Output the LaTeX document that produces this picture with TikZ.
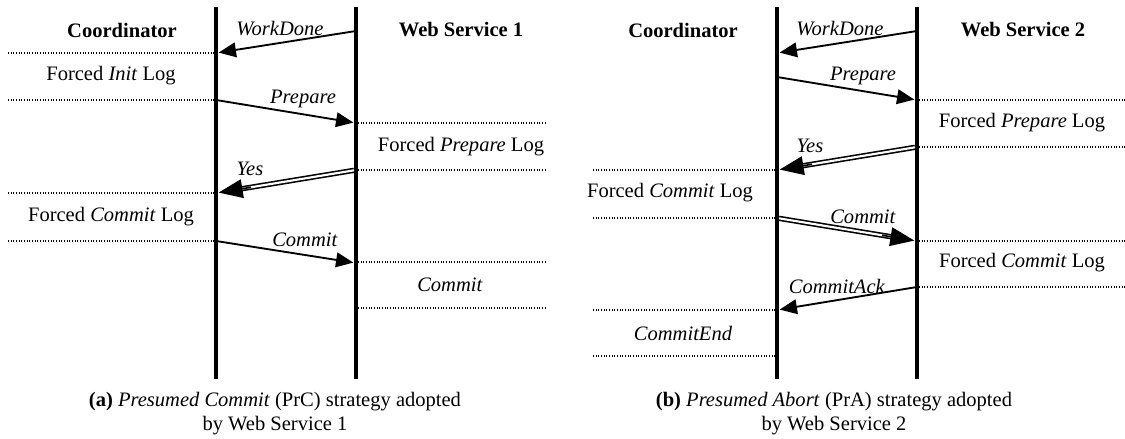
\documentclass[tikz,border=0pt]{standalone}
\usepackage{fontspec}
\setmainfont{Liberation Serif}
\usetikzlibrary{arrows.meta,calc}

\tikzset{
  lifeline/.style={line width=3.2pt},
  msg/.style={line width=1.4pt, shorten >=2pt, shorten <=1.5pt, -{Triangle[length=13pt,width=11pt]}},
  forcedmsg/.style={double, line width=1.2pt, double distance=1.6pt, shorten >=15pt, shorten <=1.5pt},
  forcedtip/.style={line width=1.2pt, shorten >=2pt, -{Triangle[length=18pt,width=14pt]}},
  logline/.style={line width=0.8pt, dash pattern=on 0.7pt off 1.3pt},
  lbl/.style={inner sep=0.75pt, font=\fontsize{15.4}{18}\selectfont},
  actor/.style={inner sep=0.75pt, font=\fontsize{15.4}{18}\selectfont\bfseries},
}

\begin{document}
\begin{tikzpicture}[x=0.75pt,y=0.75pt,yscale=-1,xscale=1]
\useasboundingbox (0,0) rectangle (1125,439);

%% (a) Presumed Commit

% Lifelines
\coordinate (coA) at (216,7);
\coordinate (coAend) at (216,379);
\coordinate (wsA) at (356,7);
\coordinate (wsAend) at (356,379);
\draw[lifeline] (coA) -- (coAend);
\draw[lifeline] (wsA) -- (wsAend);

% Text Node
\node[actor] (coAname) at (122,30) {Coordinator};
% Text Node
\node[actor] (wsAname) at (461,30) {Web Service 1};

% Messages
\coordinate (aWd1) at (356,31);
\coordinate (aWd2) at (216,53);
\draw[msg] (aWd1) -- (aWd2);
\node[lbl] (aWdTxt) at (280,29) {\textit{WorkDone}};

\coordinate (aPr1) at (216,100);
\coordinate (aPr2) at (356,123);
\draw[msg] (aPr1) -- (aPr2);
\node[lbl] (aPrTxt) at (303,99) {\textit{Prepare}};

\coordinate (aYs1) at (356,170);
\coordinate (aYs2) at (216,193);
\draw[forcedmsg] (aYs1) -- (aYs2);
\draw[forcedtip] ($(aYs1)!0.75!(aYs2)$) -- (aYs2);
\node[lbl] (aYsTxt) at (250,169) {\textit{Yes}};

\coordinate (aCm1) at (216,241);
\coordinate (aCm2) at (356,263);
\draw[msg] (aCm1) -- (aCm2);
\node[lbl] (aCmTxt) at (305,240) {\textit{Commit}};

% Log records
\draw[logline] (8,53) -- (214,53);
\node[lbl] (aInit) at (111,76) {Forced \textit{Init} Log};
\draw[logline] (8,100) -- (214,100);

\draw[logline] (358,123) -- (545,123);
\node[lbl] (aPrep) at (461,147) {Forced \textit{Prepare} Log};
\draw[logline] (358,170) -- (545,170);

\draw[logline] (8,193) -- (214,193);
\node[lbl] (aCommitLog) at (111,217) {Forced \textit{Commit} Log};
\draw[logline] (8,241) -- (214,241);

\draw[logline] (358,262) -- (545,262);
\node[lbl] (aCommit) at (450,285) {\textit{Commit}};
\draw[logline] (358,308) -- (545,308);

% Caption
\node[lbl, align=center] (capA) at (275,414) {\textbf{(a)} \textit{Presumed Commit} (PrC) strategy adopted\\by Web Service 1};

%% (b) Presumed Abort

% Lifelines
\coordinate (coB) at (777,7);
\coordinate (coBend) at (777,379);
\coordinate (wsB) at (917,7);
\coordinate (wsBend) at (917,379);
\draw[lifeline] (coB) -- (coBend);
\draw[lifeline] (wsB) -- (wsBend);

% Text Node
\node[actor] (coBname) at (683,30) {Coordinator};
% Text Node
\node[actor] (wsBname) at (1023,30) {Web Service 2};

% Messages
\coordinate (bWd1) at (917,31);
\coordinate (bWd2) at (777,53);
\draw[msg] (bWd1) -- (bWd2);
\node[lbl] (bWdTxt) at (840,29) {\textit{WorkDone}};

\coordinate (bPr1) at (777,77);
\coordinate (bPr2) at (917,100);
\draw[msg] (bPr1) -- (bPr2);
\node[lbl] (bPrTxt) at (863,76) {\textit{Prepare}};

\coordinate (bYs1) at (917,147);
\coordinate (bYs2) at (777,170);
\draw[forcedmsg] (bYs1) -- (bYs2);
\draw[forcedtip] ($(bYs1)!0.75!(bYs2)$) -- (bYs2);
\node[lbl] (bYsTxt) at (810,146) {\textit{Yes}};

\coordinate (bCm1) at (777,218);
\coordinate (bCm2) at (917,241);
\draw[forcedmsg] (bCm1) -- (bCm2);
\draw[forcedtip] ($(bCm1)!0.75!(bCm2)$) -- (bCm2);
\node[lbl] (bCmTxt) at (863,217) {\textit{Commit}};

\coordinate (bAck1) at (917,287);
\coordinate (bAck2) at (777,310);
\draw[msg] (bAck1) -- (bAck2);
\node[lbl] (bAckTxt) at (837,286) {\textit{CommitAck}};

% Log records
\draw[logline] (919,100) -- (1125,100);
\node[lbl] (bPrep) at (1022,123) {Forced \textit{Prepare} Log};
\draw[logline] (919,147) -- (1125,147);

\draw[logline] (593,170) -- (775,170);
\node[lbl] (bCommitLog) at (670,193) {Forced \textit{Commit} Log};
\draw[logline] (593,218) -- (775,218);

\draw[logline] (919,241) -- (1125,241);
\node[lbl] (bWsCommitLog) at (1022,263) {Forced \textit{Commit} Log};
\draw[logline] (919,287) -- (1125,287);

\draw[logline] (593,310) -- (775,310);
\node[lbl] (bEnd) at (683,333) {\textit{CommitEnd}};
\draw[logline] (593,356) -- (775,356);

% Caption
\node[lbl, align=center] (capB) at (834,414) {\textbf{(b)} \textit{Presumed Abort} (PrA) strategy adopted\\by Web Service 2};

\end{tikzpicture}
\end{document}
